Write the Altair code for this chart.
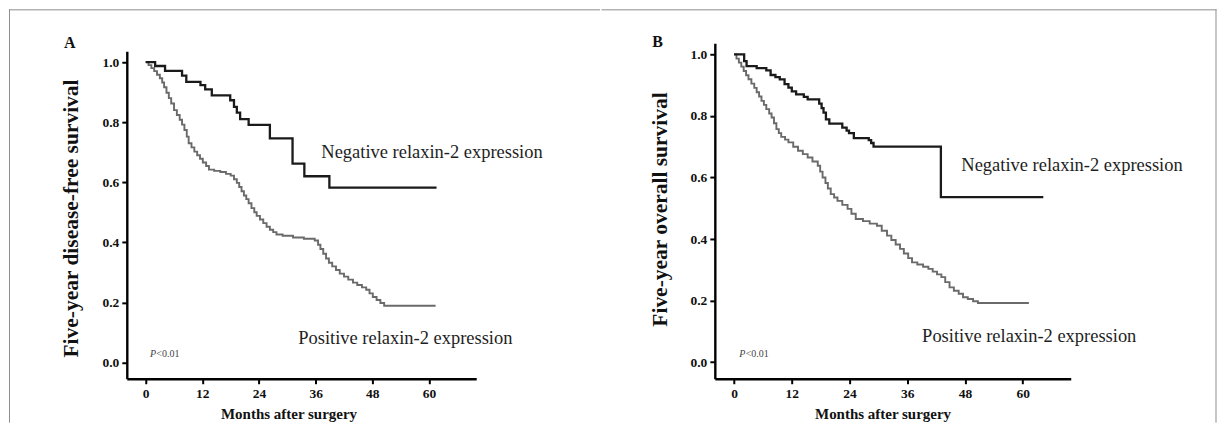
import altair as alt
import pandas as pd

# ---------------- data ----------------
X_TICKS = [0, 12, 24, 36, 48, 60]
Y_TICKS = [0.0, 0.2, 0.4, 0.6, 0.8, 1.0]

# Panel A: disease-free survival
A_NEG_T = [0, 2.0, 4.1, 7.7, 8.6, 11.6, 12.6, 14.0, 17.9, 18.7, 19.3, 20.0, 21.8,
           26.3, 31.1, 33.6, 38.9, 61.6]
A_NEG_S = [1.000, 0.987, 0.971, 0.955, 0.934, 0.923, 0.909, 0.889, 0.873, 0.851,
           0.832, 0.810, 0.791, 0.746, 0.662, 0.620, 0.582, 0.582]

A_POS_T = [0, 0.6, 1.2, 1.8, 2.4, 3.0, 3.5, 3.9, 4.4, 4.9, 5.4, 6.0, 6.6, 7.2, 7.7,
           8.2, 8.7, 9.1, 9.7, 10.3, 10.9, 11.5, 12.1, 12.8, 13.4, 14.5, 15.8, 17.0,
           18.0, 18.7, 19.3, 19.8, 20.3, 20.8, 21.3, 21.8, 22.4, 23.0, 23.5, 24.2,
           24.9, 25.6, 26.3, 27.0, 27.7, 29.0, 31.2, 33.5, 35.8, 36.5, 37.0, 37.6,
           38.2, 38.8, 39.5, 40.3, 41.1, 42.0, 42.9, 43.9, 44.8, 45.8, 46.7, 47.4,
           48.1, 48.9, 49.7, 50.5, 61.4]
A_POS_S = [1.000, 0.990, 0.980, 0.970, 0.958, 0.946, 0.932, 0.916, 0.898, 0.880,
           0.862, 0.840, 0.824, 0.808, 0.792, 0.774, 0.752, 0.730, 0.716, 0.702,
           0.690, 0.678, 0.666, 0.654, 0.642, 0.638, 0.634, 0.628, 0.622, 0.610,
           0.598, 0.584, 0.570, 0.556, 0.544, 0.530, 0.514, 0.500, 0.488, 0.476,
           0.464, 0.452, 0.442, 0.434, 0.426, 0.422, 0.416, 0.412, 0.406, 0.392,
           0.378, 0.362, 0.346, 0.332, 0.320, 0.308, 0.296, 0.286, 0.276, 0.266,
           0.258, 0.250, 0.242, 0.230, 0.218, 0.208, 0.198, 0.189, 0.189]

# Panel B: overall survival
B_NEG_T = [0, 2.1, 2.6, 4.7, 6.7, 7.6, 8.6, 9.5, 10.5, 11.3, 12.0, 12.9, 14.5, 15.3,
           17.7, 18.2, 18.6, 19.1, 19.8, 22.5, 23.4, 23.9, 24.9, 28.0, 28.5, 29.0,
           43.0, 64.3]
B_NEG_S = [1.000, 0.978, 0.962, 0.955, 0.948, 0.933, 0.926, 0.919, 0.903, 0.892,
           0.880, 0.870, 0.862, 0.854, 0.840, 0.825, 0.811, 0.789, 0.775, 0.762,
           0.752, 0.744, 0.728, 0.721, 0.712, 0.700, 0.536, 0.536]

B_POS_T = [0, 0.5, 1.0, 1.5, 2.0, 2.5, 3.0, 3.6, 4.2, 4.7, 5.2, 5.7, 6.2, 6.7, 7.3,
           7.8, 8.3, 8.8, 9.3, 9.8, 10.6, 11.3, 12.3, 13.3, 14.3, 15.3, 16.3, 17.4,
           17.9, 18.4, 19.0, 19.5, 20.1, 20.8, 21.5, 22.5, 23.6, 24.4, 25.3, 26.8,
           28.2, 29.7, 30.7, 31.8, 32.7, 33.6, 34.5, 35.3, 36.2, 37.0, 38.1, 39.3,
           40.4, 41.3, 42.2, 43.1, 43.9, 44.8, 45.7, 46.7, 47.6, 48.6, 49.7, 50.7,
           61.3]
B_POS_S = [1.000, 0.986, 0.973, 0.960, 0.946, 0.932, 0.919, 0.905, 0.891, 0.877,
           0.863, 0.849, 0.836, 0.822, 0.808, 0.795, 0.776, 0.757, 0.744, 0.732,
           0.723, 0.714, 0.700, 0.687, 0.676, 0.665, 0.652, 0.638, 0.619, 0.600,
           0.582, 0.564, 0.546, 0.535, 0.524, 0.511, 0.498, 0.482, 0.465, 0.458,
           0.450, 0.443, 0.427, 0.411, 0.397, 0.382, 0.368, 0.353, 0.338, 0.324,
           0.317, 0.310, 0.303, 0.294, 0.285, 0.276, 0.260, 0.243, 0.232, 0.222,
           0.211, 0.205, 0.198, 0.192, 0.192]

NEG_LABEL = "Negative relaxin-2 expression"
POS_LABEL = "Positive relaxin-2 expression"
X_TITLE = "Months after surgery"
A_YTITLE = "Five-year disease-free survival"
B_YTITLE = "Five-year overall survival"
P_TEXT = ["P", "<0.01"]

SERIF = "Liberation Serif"
X_DOMAIN = [-4, 70]
Y_DOMAIN = [-0.054, 1.036]


def df(t, s):
    return pd.DataFrame({"month": t, "surv": s})


def panel(neg, pos, letter, ytitle, w, h, yrange, ann, axpos, frame):
    x = alt.X("month:Q", scale=alt.Scale(domain=X_DOMAIN, nice=False, zero=False),
              axis=alt.Axis(values=X_TICKS, title=X_TITLE, titleX=axpos["xtx"], titleY=35,
                            titleBaseline="middle", titleAlign="center", titleFontSize=15,
                            labelPadding=3))
    y = alt.Y("surv:Q", scale=alt.Scale(domain=Y_DOMAIN, nice=False, zero=False, range=yrange),
              axis=alt.Axis(values=Y_TICKS, format=".1f", title=ytitle, titleAngle=270,
                            titleX=axpos["ytx"], titleY=axpos["yty"], titleBaseline="middle",
                            titleAlign="center", titleFontSize=21.5, labelPadding=3))
    pos_line = alt.Chart(df(*pos)).mark_line(
        interpolate="step-after", color="#6a6a6a", strokeWidth=1.9).encode(x=x, y=y)
    neg_line = alt.Chart(df(*neg)).mark_line(
        interpolate="step-after", color="#1a1a1a", strokeWidth=2.3).encode(x="month:Q", y="surv:Q")

    ann_df = pd.DataFrame({"month": [ann["neg"][0], ann["pos"][0]],
                           "surv": [ann["neg"][1], ann["pos"][1]],
                           "label": [NEG_LABEL, POS_LABEL]})
    ann_txt = alt.Chart(ann_df).mark_text(
        align="left", baseline="alphabetic", font=SERIF, fontSize=18.5, color="#1e1e1e"
    ).encode(x="month:Q", y="surv:Q", text="label:N")

    p_df = pd.DataFrame({"month": [ann["p"][0]], "surv": [ann["p"][1]], "label": [P_TEXT[0]]})
    p_txt = alt.Chart(p_df).mark_text(
        align="left", baseline="alphabetic", font=SERIF, fontSize=10, fontStyle="italic",
        color="#444444").encode(x="month:Q", y="surv:Q", text="label:N")
    p2_df = pd.DataFrame({"month": [ann["p"][0] + 1.35], "surv": [ann["p"][1]], "label": [P_TEXT[1]]})
    p2_txt = alt.Chart(p2_df).mark_text(
        align="left", baseline="alphabetic", font=SERIF, fontSize=10,
        color="#444444").encode(x="month:Q", y="surv:Q", text="label:N")

    l_df = pd.DataFrame({"month": [ann["letter"][0]], "surv": [ann["letter"][1]], "label": [letter]})
    l_txt = alt.Chart(l_df).mark_text(
        align="left", baseline="alphabetic", font=SERIF, fontSize=16, fontWeight="bold",
        color="#111111").encode(x="month:Q", y="surv:Q", text="label:N")

    one = pd.DataFrame({"k": [0]})
    rules = []
    for (x1, x2, y1, y2) in frame:
        rules.append(alt.Chart(one).mark_rule(color="#8e8e8e", strokeWidth=1).encode(
            x=alt.value(x1), x2=alt.value(x2), y=alt.value(y1), y2=alt.value(y2)))

    return alt.layer(pos_line, neg_line, ann_txt, p_txt, p2_txt, l_txt, *rules).properties(
        width=w, height=h)


# Panel A: plot area spans 8..336 inside a 336-high cell so that its axis starts lower
chart_a = panel(
    (A_NEG_T, A_NEG_S), (A_POS_T, A_POS_S), "A", A_YTITLE, 350, 336, [336, 8],
    ann={"neg": (37.2, 0.682), "pos": (32.3, 0.062), "p": (0.9, 0.018), "letter": (-17.3, 1.047)},
    axpos={"xtx": 162, "ytx": -55, "yty": 175},
    frame=[(-118, 474, -33.5, -33.5), (-117.5, -117.5, -34, 380)],
)
chart_b = panel(
    (B_NEG_T, B_NEG_S), (B_POS_T, B_POS_S), "B", B_YTITLE, 356.5, 336, [336, 0],
    ann={"neg": (47.25, 0.621), "pos": (39.1, 0.066), "p": (1.07, 0.016), "letter": (-17.0, 1.024)},
    axpos={"xtx": 168, "ytx": -54, "yty": 166},
    frame=[(-113.5, 502.5, -33.5, -33.5), (502, 502, -34, 380)],
)

chart = alt.hconcat(chart_a, chart_b, spacing=0).properties(
    padding=0, background="white"
).configure_axis(
    grid=False, domainColor="black", domainWidth=2.4, tickColor="black", tickWidth=2,
    tickSize=5, labelFont=SERIF, labelFontWeight="bold", labelFontSize=13.5,
    labelColor="#111111", titleFont=SERIF, titleFontWeight="bold", titleColor="#111111"
).configure_view(strokeWidth=0)

chart.save("out.html", embed_options={"renderer": "svg", "actions": False})
